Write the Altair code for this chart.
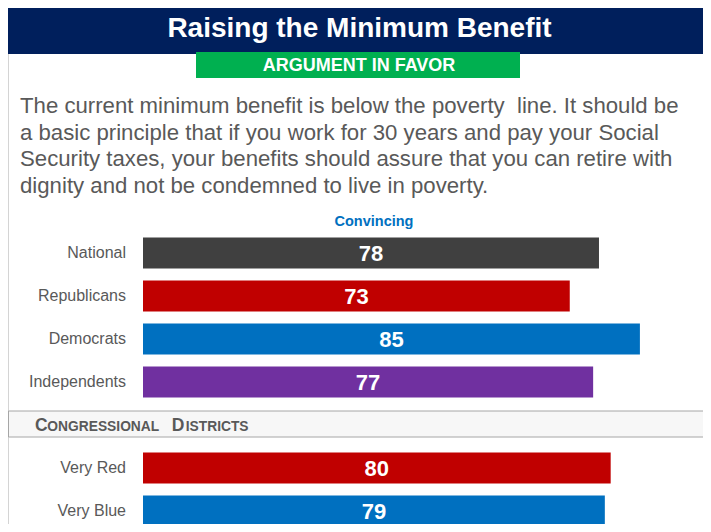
import altair as alt
import pandas as pd

# ---- data ----
categories = ["National", "Republicans", "Democrats", "Independents", "Very Red", "Very Blue"]
values = [78, 73, 85, 77, 80, 79]
bar_colors = ["#404040", "#c00000", "#0070c0", "#7030a0", "#c00000", "#0070c0"]
row_order = ["National", "Republicans", "Democrats", "Independents", " ", "Very Red", "Very Blue"]

title_text = "Raising the Minimum Benefit"
badge_text = "ARGUMENT IN FAVOR"
paragraph_lines = [
    "The current minimum benefit is below the poverty\u00a0 line. It should be",
    "a basic principle that if you work for 30 years and pay your Social",
    "Security taxes, your benefits should assure that you can retire with",
    "dignity and not be condemned to live in poverty.",
]
column_header = "Convincing"
section_parts = [("C", 17.5), ("ONGRESSIONAL", 13.8), ("D", 17.5), ("ISTRICTS", 13.8)]

df = pd.DataFrame({"category": categories, "value": values, "color": bar_colors})
dummy = pd.DataFrame({"a": [0]})

W, H = 695, 516
FONT = "Liberation Sans, Arial, Helvetica, sans-serif"

xs = alt.Scale(domain=[0, 100], range=[135, 135 + 584.6])
ys = alt.Scale(domain=row_order, range=[223.5, 524.5], paddingInner=0.28,
               paddingOuter=0.14, round=False)

base = alt.Chart(df)

bars = base.mark_bar().encode(
    x=alt.X("value:Q", scale=xs, axis=None),
    y=alt.Y("category:N", scale=ys, axis=None, sort=row_order),
    color=alt.Color("color:N", scale=None, legend=None),
)

value_labels = base.transform_calculate(mid="datum.value / 2").mark_text(
    font=FONT, fontSize=22, fontWeight="bold", color="white", baseline="middle", align="center", dy=1
).encode(
    x=alt.X("mid:Q", scale=xs, axis=None),
    y=alt.Y("category:N", scale=ys, axis=None, sort=row_order),
    text=alt.Text("value:Q"),
)

cat_labels = base.mark_text(
    font=FONT, fontSize=16, color="#595959", baseline="middle", align="right"
).encode(
    x=alt.value(118),
    y=alt.Y("category:N", scale=ys, axis=None, sort=row_order),
    text="category:N",
)

deco = alt.Chart(dummy)

left_border = deco.mark_rule(color="#d4d4d4", strokeWidth=1).encode(
    x=alt.value(0.5), y=alt.value(46), y2=alt.value(H)
)

header = deco.mark_rect(color="#001f5c").encode(
    x=alt.value(-4), x2=alt.value(W), y=alt.value(-4), y2=alt.value(46)
)
title = deco.mark_text(
    font=FONT, fontSize=28, fontWeight="bold", color="white", align="center", baseline="alphabetic"
).encode(x=alt.value(351.5), y=alt.value(29), text=alt.value(title_text))

badge = deco.mark_rect(color="#00b050").encode(
    x=alt.value(188), x2=alt.value(512), y=alt.value(44), y2=alt.value(70)
)
badge_label = deco.mark_text(
    font=FONT, fontSize=18, fontWeight="bold", color="white", align="center", baseline="alphabetic"
).encode(x=alt.value(351), y=alt.value(62.5), text=alt.value(badge_text))

paragraph = deco.mark_text(
    font=FONT, fontSize=22.2, color="#595959", align="left", baseline="alphabetic",
    lineHeight=26.5, text=paragraph_lines,
).encode(x=alt.value(12), y=alt.value(105.3))

col_head = deco.mark_text(
    font=FONT, fontSize=14.5, fontWeight="bold", color="#0070c0", align="center", baseline="middle"
).encode(x=alt.value(366), y=alt.value(214), text=alt.value(column_header))

section_box = deco.mark_rect(fill="#f7f7f7", stroke="#a6a6a6", strokeWidth=1).encode(
    x=alt.value(0.5), x2=alt.value(W + 2), y=alt.value(403), y2=alt.value(429)
)

section_x = [27, 39.3, 163.7, 177.7]
section_texts = []
for (txt, size), px in zip(section_parts, section_x):
    section_texts.append(
        deco.mark_text(
            font=FONT, fontSize=size, fontWeight="bold", color="#595959", align="left", baseline="alphabetic"
        ).encode(x=alt.value(px), y=alt.value(422.7), text=alt.value(txt))
    )

chart = alt.layer(
    left_border, header, badge, title, badge_label, paragraph, col_head,
    section_box, *section_texts, bars, value_labels, cat_labels,
).properties(
    width=W, height=H, padding=0, autosize=alt.AutoSizeParams(type="none"), background="white"
).configure_view(stroke=None)

chart.save("out.html", embed_options={"renderer": "svg", "actions": False})
